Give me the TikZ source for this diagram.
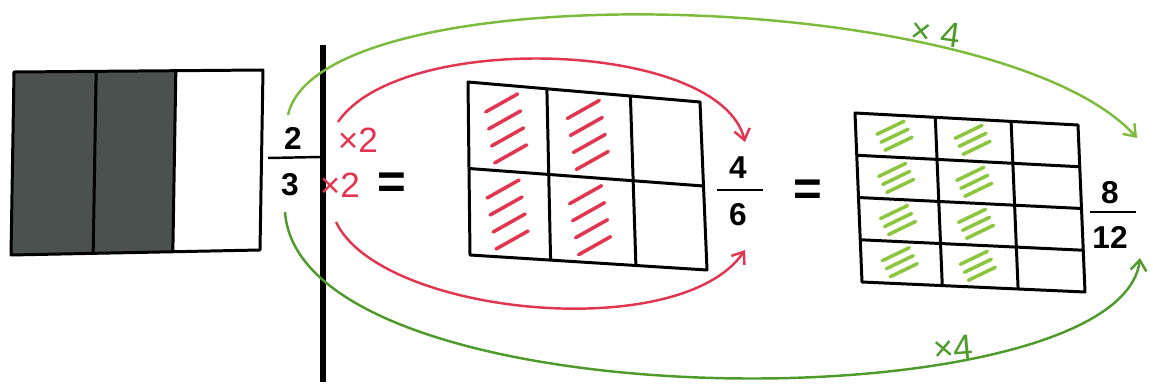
\documentclass[tikz,border=0pt]{standalone}
\usepackage{fontspec}
\setmainfont{Liberation Sans}
\usetikzlibrary{positioning, arrows.meta, calc}
\definecolor{redpen}{HTML}{E2354F}
\definecolor{greenpen}{HTML}{4E9B2C}
\definecolor{lightgreen}{HTML}{7DBB3C}
\definecolor{hatchgreen}{HTML}{8CC63F}
\definecolor{darkfill}{HTML}{4B514E}

\begin{document}
\begin{tikzpicture}[
    x=0.02cm, y=-0.02cm,
    grid/.style={line width=1.7pt, line join=round},
    num/.style={font=\fontsize{18}{20}\selectfont\bfseries, inner sep=0pt},
    eqsign/.style={font=\fontsize{28}{30}\selectfont\bfseries, inner sep=0pt},
    fbar/.style={line width=1.4pt},
    lbl/.style={font=\fontsize{20}{22}\selectfont, inner sep=0pt},
    redarr/.style={-{Straight Barb[length=6pt, width=9pt]}, line width=1.4pt, redpen},
    greenarr/.style={-{Straight Barb[length=6pt, width=9pt]}, line width=1.4pt},
    redhatch/.style={redpen, line width=2pt, line cap=round},
    greenhatch/.style={hatchgreen, line width=2pt, line cap=round},
]
    \useasboundingbox (0,0) rectangle (1153,385);

    % whole: 2 of 3 shaded
    \coordinate (w1) at (14,72);
    \coordinate (w2) at (263,70);
    \coordinate (w3) at (260,250);
    \coordinate (w4) at (11,255);
    \fill[darkfill] (w1) -- ($(w1)!0.65!(w2)$) -- ($(w4)!0.65!(w3)$) -- (w4) -- cycle;
    \draw[grid] (w1) -- (w2) -- (w3) -- (w4) -- cycle;
    \foreach \t in {0.33,0.65}
        \draw[grid] ($(w1)!\t!(w2)$) -- ($(w4)!\t!(w3)$);

    % dividing line
    \draw[line width=3.5pt] (323,45) -- (323,382);

    % sixths
    \coordinate (a1) at (468,82);
    \coordinate (a2) at (700,102);
    \coordinate (a3) at (707,270);
    \coordinate (a4) at (470,255);
    \draw[grid] (a1) -- (a2) -- (a3) -- (a4) -- cycle;
    \foreach \t in {0.34,0.70}
        \draw[grid] ($(a1)!\t!(a2)$) -- ($(a4)!\t!(a3)$);
    \draw[grid] ($(a1)!0.5!(a4)$) -- ($(a2)!0.5!(a3)$);
    \foreach \u in {0.17,0.52}
        \foreach \v in {0.25,0.75} {
            \coordinate (c) at ($($(a1)!\u!(a2)$)!\v!($(a4)!\u!(a3)$)$);
            \foreach \k in {-1.5,-0.5,0.5,1.5}
                \draw[redhatch] ($(c)+({-18+\k*3},{\k*17+9})$) -- ++(32,-18);
        }

    % twelfths
    \coordinate (b1) at (855,113);
    \coordinate (b2) at (1078,125);
    \coordinate (b3) at (1085,292);
    \coordinate (b4) at (862,282);
    \draw[grid] (b1) -- (b2) -- (b3) -- (b4) -- cycle;
    \foreach \t in {0.36,0.70}
        \draw[grid] ($(b1)!\t!(b2)$) -- ($(b4)!\t!(b3)$);
    \foreach \t in {0.25,0.5,0.75}
        \draw[grid] ($(b1)!\t!(b4)$) -- ($(b2)!\t!(b3)$);
    \foreach \u in {0.18,0.53}
        \foreach \v in {0.125,0.375,0.625,0.875} {
            \coordinate (c) at ($($(b1)!\u!(b2)$)!\v!($(b4)!\u!(b3)$)$);
            \foreach \k in {-1,0,1}
                \draw[greenhatch] ($(c)+({-15+\k*4},{\k*8+6})$) -- ++(27,-13);
        }

    % fractions and signs
    \node[num] (n2) at (293,138) {2};
    \node[num] (d3) at (290,185) {3};
    \draw[fbar] (268,158) -- (320,157);
    \node[num] (n4) at (738,168) {4};
    \node[num] (d6) at (738,215) {6};
    \draw[fbar] (717,190) -- (763,190);
    \node[num] (n8) at (1110,193) {8};
    \node[num] (d12) at (1110,237) {12};
    \draw[fbar] (1090,212) -- (1136,212);
    \node[eqsign] (eq1) at (392,186) {=};
    \node[eqsign] (eq2) at (808,193) {=};
    \node[lbl, redpen] (t1) at (358,140) {×2};
    \node[lbl, redpen] (t2) at (340,185) {×2};
    \node[lbl, greenpen, rotate=-8] (g1) at (936,33) {× 4};
    \node[lbl, greenpen, rotate=5] (g2) at (953,348) {×4};

    % multipliers
    \draw[redarr] ([shift={(-20,-18)}]t1.center) .. controls (400,30) and (720,40) .. ([shift={(7,-26)}]n4.center);
    \draw[redarr] ([shift={(-4,37)}]t2.center) .. controls (380,315) and (680,345) .. ([shift={(7,35)}]d6.center);
    \draw[greenarr, lightgreen] ([shift={(-5,-23)}]n2.center) .. controls (320,-30) and (1000,-14) .. ([shift={(27,-55)}]n8.center);
    \draw[greenarr, greenpen] ([shift={(-5,27)}]d3.center) .. controls (300,425) and (1120,425) .. ([shift={(30,21)}]d12.center);
\end{tikzpicture}
\end{document}
